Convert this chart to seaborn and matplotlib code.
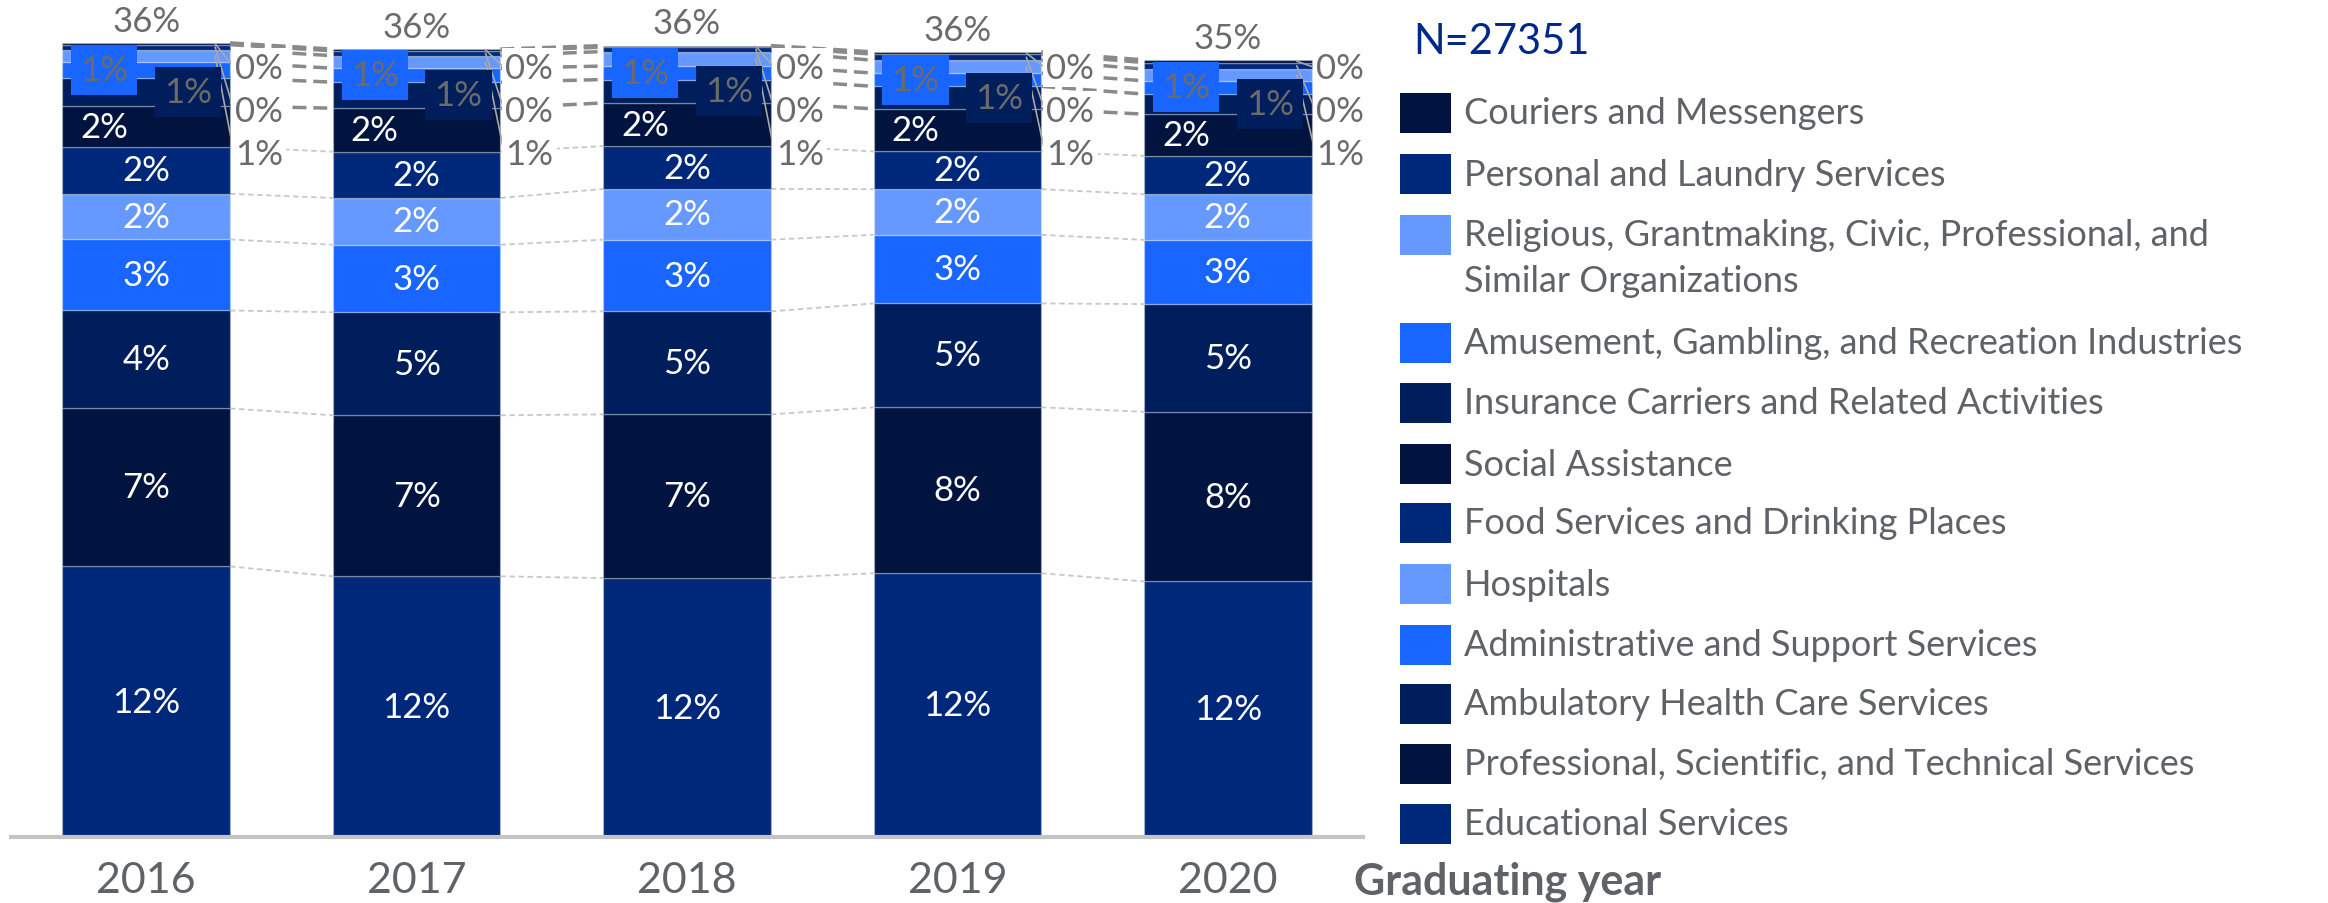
import matplotlib
matplotlib.use('Agg')
import matplotlib.pyplot as plt
import seaborn as sns
import numpy as np
from matplotlib.patches import Rectangle

# values (share of graduates, %), stacked bottom -> top
years = ['2016', '2017', '2018', '2019', '2020']
educational = [12.28, 11.83, 11.75, 11.97, 11.60]
professional = [7.16, 7.30, 7.42, 7.52, 7.69]
ambulatory = [4.44, 4.67, 4.67, 4.71, 4.88]
administrative = [3.22, 3.06, 3.25, 3.11, 2.91]
hospitals = [2.07, 2.12, 2.30, 2.07, 2.07]
food = [2.12, 2.10, 1.94, 1.71, 1.74]
social = [1.86, 1.97, 1.96, 1.93, 1.89]
insurance = [1.28, 1.18, 1.06, 1.02, 0.91]
amusement = [0.71, 0.63, 0.61, 0.60, 0.60]
religious = [0.57, 0.57, 0.66, 0.58, 0.53]
personal = [0.22, 0.22, 0.20, 0.28, 0.30]
couriers = [0.08, 0.08, 0.07, 0.10, 0.12]

names = ['Educational Services',
         'Professional, Scientific, and Technical Services',
         'Ambulatory Health Care Services',
         'Administrative and Support Services',
         'Hospitals',
         'Food Services and Drinking Places',
         'Social Assistance',
         'Insurance Carriers and Related Activities',
         'Amusement, Gambling, and Recreation Industries',
         'Religious, Grantmaking, Civic, Professional, and\nSimilar Organizations',
         'Personal and Laundry Services',
         'Couriers and Messengers']
series = [educational, professional, ambulatory, administrative, hospitals, food,
          social, insurance, amusement, religious, personal, couriers]

NAVY = '#00287A'
DARK = '#00143F'
MID = '#001E5C'
BRIGHT = '#1866FF'
LIGHT = '#6699FF'
colors = [NAVY, DARK, MID, BRIGHT, LIGHT, NAVY, DARK, MID, BRIGHT, LIGHT, NAVY, DARK]
GREY = '#5f6368'

sns.set_style('white')
plt.rcParams['font.family'] = ['Lato', 'DejaVu Sans']

fig = plt.figure(figsize=(23.28, 9.04), dpi=100)
ax = fig.add_axes([11 / 2328, (904 - 838.3) / 904, 1352 / 2328, 838.3 / 904])

W = 0.62
bottoms = np.zeros(len(years))
tops = []
for vals, col in zip(series, colors):
    sns.barplot(x=years, y=vals, bottom=bottoms, color=col, saturation=1,
                width=W, errorbar=None, edgecolor=(1, 1, 1, 0.25), linewidth=1,
                ax=ax, zorder=2)
    bottoms = bottoms + np.array(vals)
    tops.append(bottoms.copy())

totals = bottoms
ax.set_xlim(-0.5, len(years) - 0.5)
ax.set_ylim(0, 38.0)
ax.set_xlabel('')
ax.set_ylabel('')
ax.set_yticks([])
for s in ['top', 'right', 'left']:
    ax.spines[s].set_visible(False)
ax.spines['bottom'].set_color('#c4c4c4')
ax.spines['bottom'].set_linewidth(3)
ax.tick_params(axis='x', length=0, pad=17, labelsize=31, labelcolor=GREY)

# connector lines between neighbouring bars
n = len(years)
for k, top in enumerate(tops):
    upper = k >= 6
    for i in range(n - 1):
        ax.plot([i + W / 2, i + 1 - W / 2], [top[i], top[i + 1]],
                ls=(0, (4, 2)) if upper else (0, (3, 2)),
                color='#8a8a8a' if upper else '#c8c8c8',
                lw=2.5 if upper else 1.3, zorder=1)

# value labels
label_fs = 25
off = 0.155
for k, vals in enumerate(series):
    for i, v in enumerate(vals):
        base = tops[k][i] - v
        mid = base + v / 2
        txt = f"{int(v + 0.5)}%"
        if k <= 5:
            ax.text(i, mid, txt, ha='center', va='center', color='white',
                    fontsize=label_fs, zorder=5)
        elif k == 6:
            ax.text(i - off, mid, txt, ha='center', va='center', color='white',
                    fontsize=label_fs, zorder=5)
        elif k in (7, 8):
            dx = off if k == 7 else -off
            ax.text(i + dx, mid, txt, ha='center', va='center', color='#6b6b6b',
                    fontsize=label_fs, zorder=6,
                    bbox=dict(boxstyle='square,pad=0.26', fc=colors[k], ec='none'))

# small segments labelled outside with leader lines
ymax = totals.max()
outside = [11, 10, 9]
for j, k in enumerate(outside):
    ly = ymax - 1.13 - 1.95 * j
    for i in range(n):
        v = series[k][i]
        mid = tops[k][i] - v / 2
        lx = i + W / 2 + 0.015
        ax.plot([i + W / 2 - 0.055, lx], [mid, ly], color='#a8a8a8', lw=1.2, zorder=4)
        ax.text(lx + 0.003, ly, f"{int(v + 0.5)}%", ha='left', va='center',
                color='#6b6b6b', fontsize=label_fs, zorder=5,
                bbox=dict(boxstyle='square,pad=0.1', fc='white', ec='none'))

# totals on top
for i, t in enumerate(totals):
    ax.text(i, t + 1.0, f"{int(t + 0.5)}%", ha='center', va='center',
            color='#6b6b6b', fontsize=label_fs, zorder=5)

# N and legend
fig.text(1413 / 2328, 1 - 41.6 / 904, 'N=27351', color='#00288C', fontsize=30,
         ha='left', va='center')
row_y = [114, 175, 236, 344, 404, 465, 524, 585, 646, 705, 765, 825]
for k, y in zip(range(11, -1, -1), row_y):
    fig.patches.append(Rectangle((1400 / 2328, 1 - (y + 20) / 904), 51 / 2328, 40 / 904,
                                 transform=fig.transFigure, fc=colors[k], ec='none'))
    for li, line in enumerate(names[k].split('\n')):
        fig.text(1464 / 2328, 1 - (y + 46 * li) / 904, line, color=GREY, fontsize=26,
                 ha='left', va='center')
fig.text(1354 / 2328, 1 - 882 / 904, 'Graduating year', color=GREY, fontsize=31,
         fontweight='bold', ha='left', va='center')

fig.savefig('out.png', dpi=100)
